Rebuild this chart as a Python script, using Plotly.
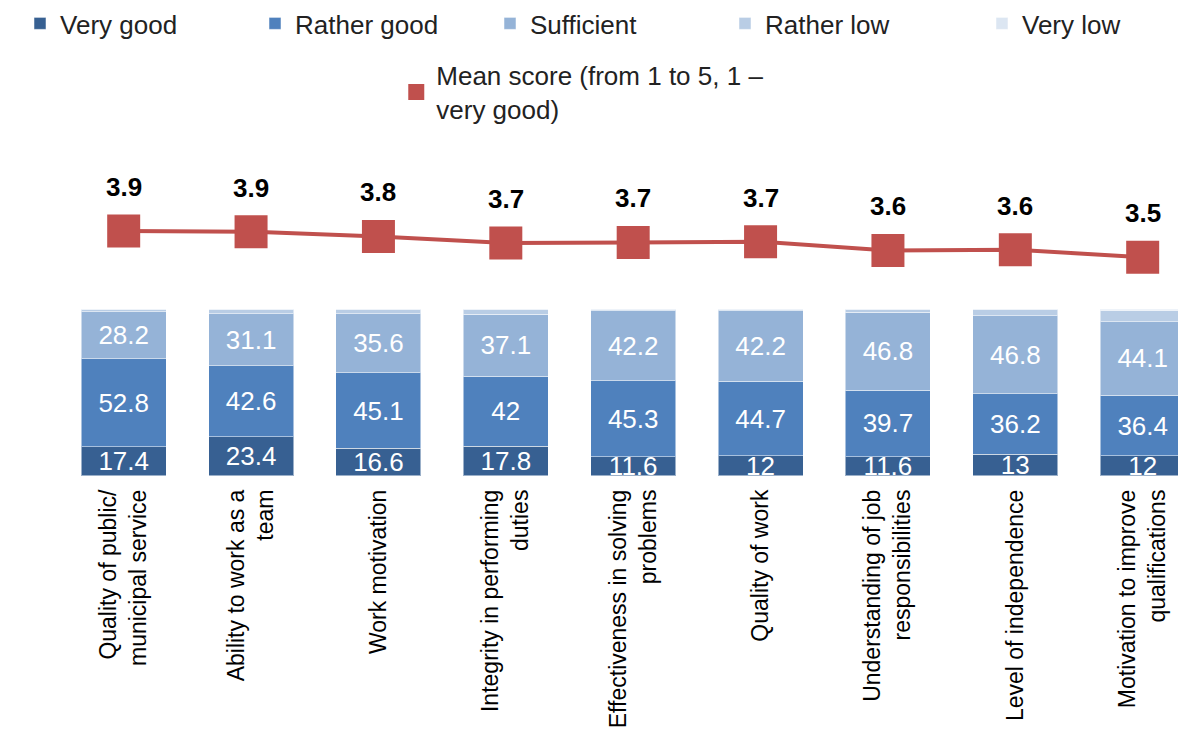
import plotly.graph_objects as go

categories = [
    "Quality of public/<br>municipal service",
    "Ability to work as a<br>team",
    "Work motivation",
    "Integrity in performing<br>duties",
    "Effectiveness in solving<br>problems",
    "Quality of work",
    "Understanding of job<br>responsibilities",
    "Level of independence",
    "Motivation to improve<br>qualifications",
]
very_good = [17.4, 23.4, 16.6, 17.8, 11.6, 12, 11.6, 13, 12]
rather_good = [52.8, 42.6, 45.1, 42, 45.3, 44.7, 39.7, 36.2, 36.4]
sufficient = [28.2, 31.1, 35.6, 37.1, 42.2, 42.2, 46.8, 46.8, 44.1]
rather_low = [1.2, 2.5, 2.3, 2.7, 0.5, 0.7, 1.5, 3.6, 6.4]
very_low = [0.4, 0.4, 0.4, 0.4, 0.4, 0.4, 0.4, 0.4, 1.1]
mean_score = [3.92, 3.91, 3.84, 3.74, 3.75, 3.76, 3.63, 3.64, 3.53]
mean_labels = ["3.9", "3.9", "3.8", "3.7", "3.7", "3.7", "3.6", "3.6", "3.5"]

FONT = "Liberation Sans, Arial, sans-serif"
x = list(range(len(categories)))

fig = go.Figure()
series = [
    ("Very good", very_good, "#376092", True, "legend"),
    ("Rather good", rather_good, "#4F81BD", True, "legend"),
    ("Sufficient", sufficient, "#95B3D7", True, "legend"),
    ("Rather low", rather_low, "#B9CDE5", False, "legend"),
    ("Very low", very_low, "#DCE6F2", False, "legend3"),
]
for name, vals, col, lab, leg in series:
    fig.add_trace(go.Bar(
        x=x, y=vals, name=name,
        marker=dict(color=col, line=dict(color="rgba(255,255,255,0.5)", width=1)),
        text=[f"{v:g}" for v in vals] if lab else None,
        textposition="inside" if lab else "none",
        insidetextanchor="middle", textangle=0, constraintext="none",
        textfont=dict(color="white", size=26, family=FONT),
        legend=leg, yaxis="y", hoverinfo="skip",
    ))

# mean score line (no legend) and markers (legend entry)
fig.add_trace(go.Scatter(
    x=x, y=mean_score, mode="lines", yaxis="y2", showlegend=False,
    line=dict(color="#C0504D", width=4), hoverinfo="skip",
))
fig.add_trace(go.Scatter(
    x=x, y=mean_score, name="Mean score (from 1 to 5, 1 –<br>very good)",
    mode="markers", yaxis="y2", legend="legend2",
    marker=dict(symbol="square", size=33, color="#C0504D"),
))

for xi, yi, lab in zip(x, mean_score, mean_labels):
    fig.add_annotation(x=xi, y=yi, xref="x", yref="y2", text=f"<b>{lab}</b>",
                       showarrow=False, yshift=44,
                       font=dict(size=26, family=FONT, color="black"))

legend_font = dict(size=26, family=FONT, color="#222")
fig.update_layout(
    width=1178, height=728,
    margin=dict(l=52, r=0, t=132, b=260, autoexpand=False),
    paper_bgcolor="white", plot_bgcolor="white",
    barmode="stack", bargap=0.333,
    font=dict(family=FONT, color="black", size=24),
    xaxis=dict(tickmode="array", tickvals=x, ticktext=categories, range=[-0.5, 8.34],
               tickangle=-90, showgrid=False, zeroline=False, showline=False,
               ticks="", automargin=False, ticklabelstandoff=8,
               tickfont=dict(size=23, family=FONT)),
    yaxis=dict(domain=[0, 0.497], range=[0, 100], visible=False),
    yaxis2=dict(domain=[0.5, 1], range=[2.77, 5.28], visible=False),
    legend=dict(orientation="h", xref="container", yref="paper",
                x=0.0102, xanchor="left", y=1.4167, yanchor="top", traceorder="normal",
                entrywidth=190, font=legend_font),
    legend3=dict(orientation="h", xref="container", yref="paper",
                 x=0.8268, xanchor="left", y=1.4167, yanchor="top",
                 font=legend_font),
    legend2=dict(orientation="h", xref="container", yref="container",
                 x=0.3296, xanchor="left", y=0.94, yanchor="top",
                 font=legend_font),
    showlegend=True,
)

fig.write_html("out.html")
